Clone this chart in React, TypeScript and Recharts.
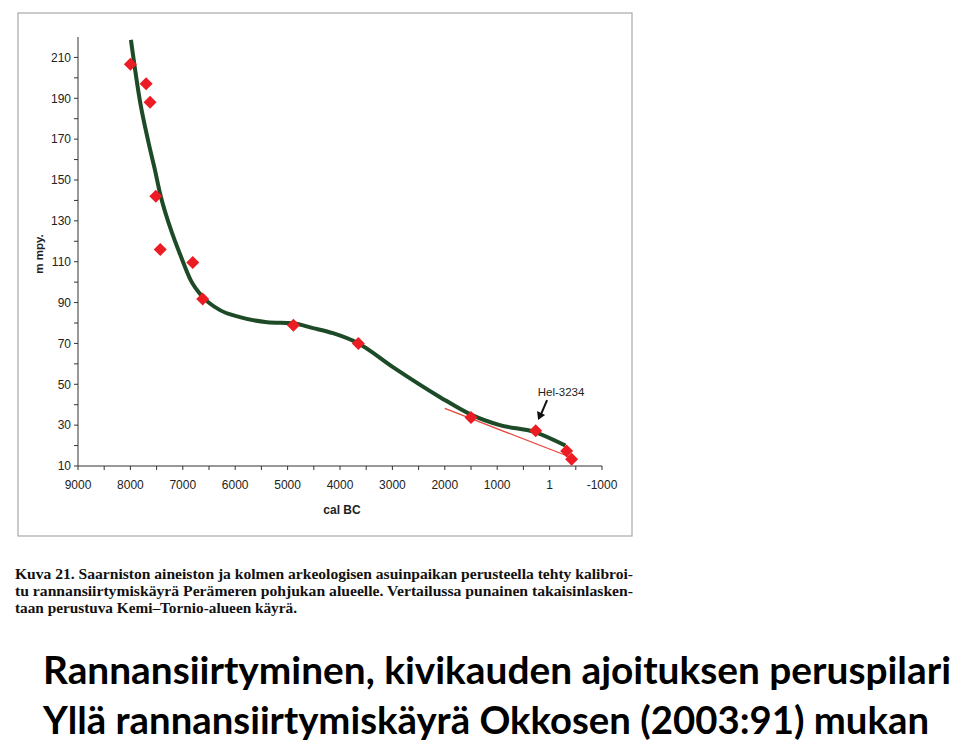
import { ComposedChart, Line, Scatter, XAxis, YAxis } from 'recharts'

// shoreline displacement curve (green), cal BC vs m a.s.l.
const curveX = [7990, 7820, 7660, 7530, 7435, 7190, 7050, 6850, 6615, 6290, 5910, 5390, 4900, 4515, 4135, 3655, 2990, 2090, 1480, 950, 280, -300]
const curveY = [218.6, 189, 169, 154.7, 143.5, 123, 113.5, 101, 92.6, 86.3, 82.9, 80.4, 79.9, 77.5, 75, 70.1, 58.4, 43.7, 34.9, 30, 26.6, 20]

// dated samples (red diamonds)
const pointX = [8000, 7700, 7625, 7515, 7430, 6810, 6620, 4890, 3650, 1500, 265, -325, -420]
const pointY = [206.6, 197.1, 188.1, 142, 116, 109.6, 91.7, 78.9, 70, 33.8, 27.3, 17.3, 13.3]

// Kemi-Tornio back-calculated curve (thin red)
const redX = [2000, -390]
const redY = [38.2, 14.4]

// Hel-3234 arrow tip
const noteX = [220]
const noteY = [32.5]

const xTicks = [9000, 8500, 8000, 7500, 7000, 6500, 6000, 5500, 5000, 4500, 4000, 3500, 3000, 2500, 2000, 1500, 1000, 500, 0, -500, -1000]
const yTicks = [10, 20, 30, 40, 50, 60, 70, 80, 90, 100, 110, 120, 130, 140, 150, 160, 170, 180, 190, 200, 210]

const captionLines = [
  'Kuva 21. Saarniston aineiston ja kolmen arkeologisen asuinpaikan perusteella tehty kalibroi-',
  'tu rannansiirtymiskäyrä Perämeren pohjukan alueelle. Vertailussa punainen takaisinlasken-',
  'taan perustuva Kemi–Tornio-alueen käyrä.',
]
const titleLines = [
  'Rannansiirtyminen, kivikauden ajoituksen peruspilari',
  'Yllä rannansiirtymiskäyrä Okkosen (2003:91) mukan',
]

const curve = curveX.map((x, i) => ({ x, y: curveY[i] }))
const points = pointX.map((x, i) => ({ x, y: pointY[i] }))
const redLine = redX.map((x, i) => ({ x, y: redY[i] }))
const note = noteX.map((x, i) => ({ x, y: noteY[i] }))

const Diamond = (props: any) => {
  const { cx, cy } = props
  const r = 6.5
  return <polygon points={`${cx},${cy - r} ${cx + r},${cy} ${cx},${cy + r} ${cx - r},${cy}`} fill="#ec1c24" />
}

const Arrow = (props: any) => {
  const { cx, cy } = props
  return (
    <g>
      <line x1={cx + 3} x2={cx + 9} y1={cy - 6} y2={cy - 20} stroke="#111" strokeWidth={2} />
      <polygon points={`${cx},${cy} ${cx - 1},${cy - 9} ${cx + 7},${cy - 5}`} fill="#111" />
      <text x={cx + 23} y={cy - 24} textAnchor="middle" fontSize={11.5} fontFamily="Liberation Sans, Arial" fill="#222">
        Hel-3234
      </text>
    </g>
  )
}

const fmtX = (v: number) => (v % 1000 !== 0 ? '' : v === 0 ? '1' : String(v))
const fmtY = (v: number) => ((v - 10) % 20 === 0 ? String(v) : '')

const App = () => {
  return (
    <div style={{ position: 'absolute', left: 0, top: 0, width: 960, height: 743, background: '#fff' }}>
      <svg width={960} height={743} style={{ position: 'absolute', left: 0, top: 0 }}>
        <rect x={18} y={13} width={614} height={523} fill="none" stroke="#a8a8a8" strokeWidth={1.2} />
        <text
          x={43}
          y={254}
          transform="rotate(-90, 43, 254)"
          textAnchor="middle"
          fontSize={11.5}
          fontWeight="bold"
          fontFamily="Liberation Sans, Arial"
          fill="#222"
        >
          m mpy.
        </text>
        <text x={342} y={514} textAnchor="middle" fontSize={12} fontWeight="bold" fontFamily="Liberation Sans, Arial" fill="#222">
          cal BC
        </text>
        {captionLines.map((t, i) => (
          <text
            key={i}
            x={15}
            y={579 + i * 17}
            fontSize={15}
            fontWeight="bold"
            fontFamily="Liberation Serif, Times New Roman"
            fill="#111"
            textLength={i === 2 ? 282 : 618}
            lengthAdjust="spacingAndGlyphs"
          >
            {t}
          </text>
        ))}
        {titleLines.map((t, i) => (
          <text
            key={i}
            x={43}
            y={684 + i * 50}
            fontSize={38}
            fontWeight="bold"
            fontFamily="Lato, Open Sans"
            fill="#000"
            textLength={i === 0 ? 908 : 886}
            lengthAdjust="spacingAndGlyphs"
          >
            {t}
          </text>
        ))}
      </svg>
      <div style={{ position: 'absolute', left: 0, top: 0 }}>
        <ComposedChart width={640} height={540} margin={{ top: 37, right: 38, left: 38, bottom: 44 }}>
          <XAxis
            type="number"
            dataKey="x"
            domain={[-1000, 9000]}
            reversed
            ticks={xTicks}
            interval={0}
            tickFormatter={fmtX}
            tickSize={4}
            tickMargin={10}
            height={30}
            allowDataOverflow
            stroke="#333"
            tick={{ fill: '#222', fontSize: 12, fontFamily: 'Liberation Sans, Arial' }}
          />
          <YAxis
            type="number"
            dataKey="y"
            domain={[10, 220]}
            ticks={yTicks}
            interval={0}
            tickFormatter={fmtY}
            tickSize={4}
            tickMargin={3}
            width={40}
            allowDataOverflow
            stroke="#333"
            tick={{ fill: '#222', fontSize: 12, fontFamily: 'Liberation Sans, Arial' }}
          />
          <Line
            data={redLine}
            dataKey="y"
            type="linear"
            stroke="#e8473d"
            strokeWidth={1.3}
            dot={false}
            isAnimationActive={false}
          />
          <Line
            data={curve}
            dataKey="y"
            type="monotone"
            stroke="#1d4a27"
            strokeWidth={4}
            dot={false}
            isAnimationActive={false}
          />
          <Scatter data={points} dataKey="y" shape={Diamond} isAnimationActive={false} />
          <Scatter data={note} dataKey="y" shape={Arrow} isAnimationActive={false} />
        </ComposedChart>
      </div>
    </div>
  )
}

export default App
